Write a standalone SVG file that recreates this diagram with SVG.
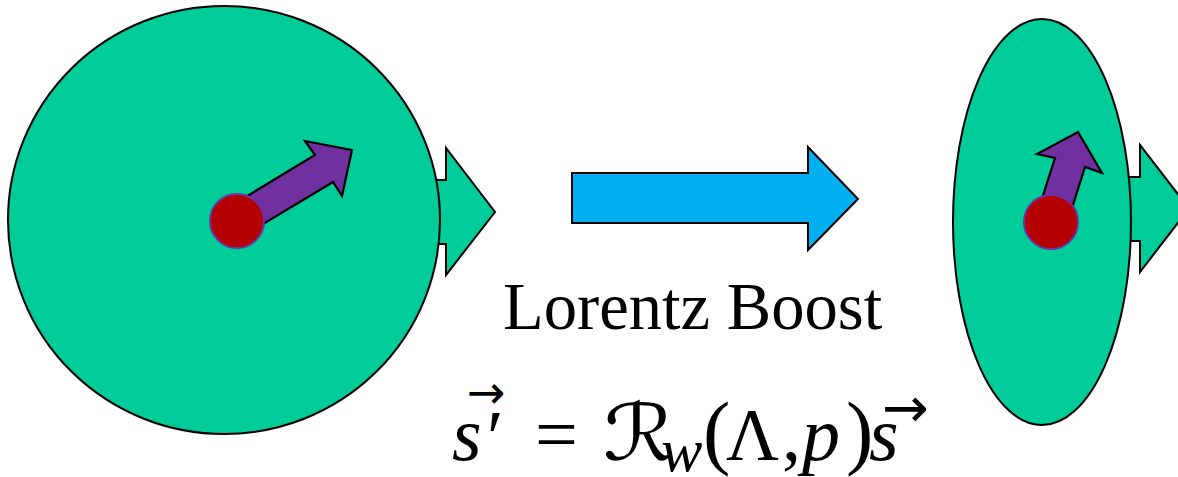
<svg xmlns="http://www.w3.org/2000/svg" width="1178" height="477" viewBox="0 0 1178 477">
<style>
.green{fill:#00CC99;stroke:#000;stroke-width:2;stroke-linejoin:miter}
.blue{fill:#00B0F0;stroke:#000;stroke-width:2}
.purple{fill:#7030A0;stroke:#000;stroke-width:2.2;stroke-linejoin:miter}
.ball{fill:#B40000;stroke:#7030A0;stroke-width:2}
.t{font-family:"Liberation Serif","Times New Roman",serif;fill:#000}
.i{font-style:italic}
.vec{font-family:"DejaVu Sans",sans-serif;fill:#000}
</style>
<rect width="1178" height="477" fill="#fff"/>
<g id="rest-frame">
<polygon class="green" points="300,180 446,180 446,148 495,212 446,275 446,244 300,244"/>
<ellipse class="green" cx="224" cy="220" rx="216" ry="214"/>
<polygon class="purple" points="229,207 315,155 305,141 352,150 342,196 333,182 245,235"/>
<circle class="ball" cx="237" cy="221" r="27"/>
</g>
<g id="connectors">
<polygon class="blue" points="572,173 808,173 808,147 858,199 808,250 808,223 572,223"/>
</g>
<g id="boosted-frame">
<polygon class="green" points="1000,177 1140,177 1140,145 1189,208.5 1140,272 1140,241 1000,241"/>
<ellipse class="green" cx="1042" cy="222" rx="89" ry="203"/>
<polygon class="purple" points="1036,217 1055,158 1037,154 1078,132 1102,173 1085,167 1066,227"/>
<circle class="ball" cx="1051" cy="222" r="27"/>
</g>
<g id="label">
<text class="t" x="503" y="329" font-size="66.6">Lorentz Boost</text>
</g>
<g id="formula">
<text class="t i" x="452" y="460" font-size="76">s</text>
<text class="vec" x="467" y="408" font-size="46">→</text>
<text class="t" x="487" y="463" font-size="76">′</text>
<text class="t" x="535" y="460" font-size="76">=</text>
<text x="603" y="460" font-size="78" font-family="DejaVu Serif, DejaVu Sans, serif" font-style="italic" textLength="72" lengthAdjust="spacingAndGlyphs">ℛ</text>
<text class="t i" x="661" y="471" font-size="62">w</text>
<text class="t" x="703" y="459" font-size="82">(</text>
<text class="t" x="726" y="460" font-size="73">Λ</text>
<text class="t" x="782" y="460" font-size="76">,</text>
<text class="t i" x="802" y="460" font-size="76">p</text>
<text class="t" x="846" y="459" font-size="82">)</text>
<text class="t i" x="869" y="460" font-size="76">s</text>
<text class="vec" x="882" y="427" font-size="56">→</text>
</g>
</svg>
